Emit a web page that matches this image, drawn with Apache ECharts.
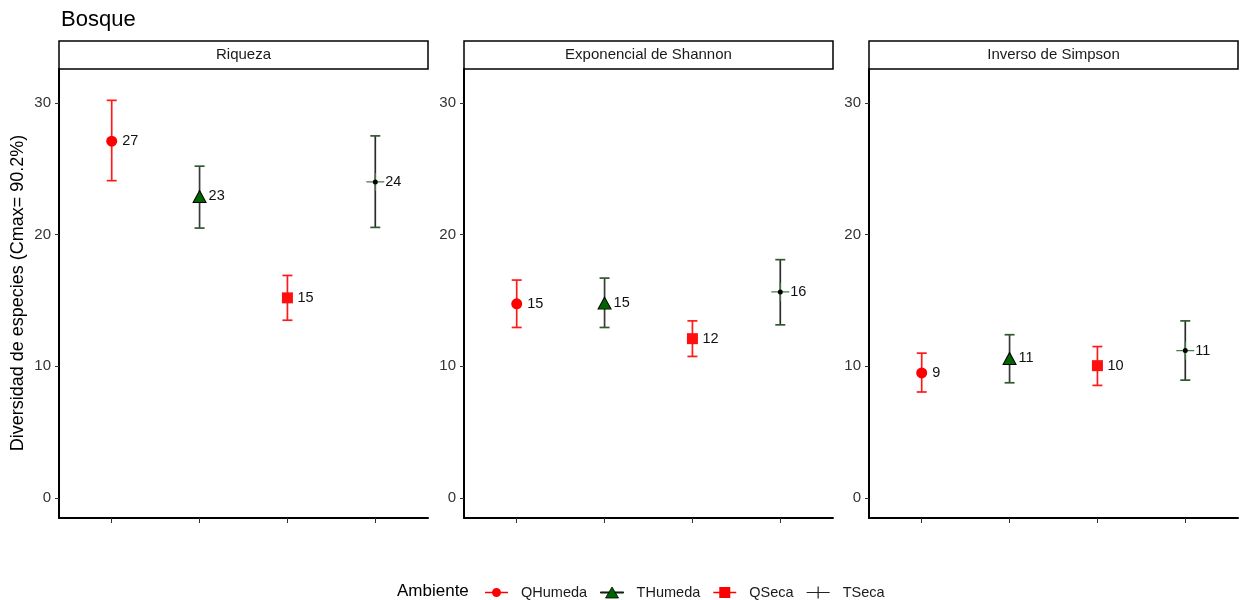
<!DOCTYPE html>
<html>
<head>
<meta charset="utf-8">
<script src="https://cdn.jsdelivr.net/npm/echarts@6/dist/echarts.min.js"></script>
<style>html,body{margin:0;padding:0;background:#fff}#chart{width:1240px;height:600px}</style>
</head>
<body>
<div id="chart"></div>
<script>
// ---- data ----
var groups = ['QHumeda', 'THumeda', 'QSeca', 'TSeca'];
var panels = ['Riqueza', 'Exponencial de Shannon', 'Inverso de Simpson'];
var yTicks = [0, 10, 20, 30];

var riquezaMean  = [27.1, 22.9, 15.2, 24.0];
var riquezaLow   = [24.1, 20.5, 13.5, 20.55];
var riquezaHigh  = [30.2, 25.2, 16.9, 27.5];
var riquezaLabel = ['27', '23', '15', '24'];

var shannonMean  = [14.75, 14.8, 12.1, 15.65];
var shannonLow   = [12.95, 12.95, 10.75, 13.15];
var shannonHigh  = [16.55, 16.7, 13.45, 18.1];
var shannonLabel = ['15', '15', '12', '16'];

var simpsonMean  = [9.5, 10.6, 10.05, 11.2];
var simpsonLow   = [8.05, 8.75, 8.55, 8.95];
var simpsonHigh  = [11.0, 12.4, 11.5, 13.45];
var simpsonLabel = ['9', '11', '10', '11'];

var panelData = [
  {mean: riquezaMean, low: riquezaLow, high: riquezaHigh, label: riquezaLabel},
  {mean: shannonMean, low: shannonLow, high: shannonHigh, label: shannonLabel},
  {mean: simpsonMean, low: simpsonLow, high: simpsonHigh, label: simpsonLabel}
];

// ---- styles ----
var FONT = '"Liberation Sans", Arial, sans-serif';
var barColor = ['#ff1a1a', '#3a3a3a', '#ff1a1a', '#2b2b2b'];
var capColor = ['#ff1a1a', '#2f5a2f', '#ff1a1a', '#2f5a2f'];
var pointColor = ['#ff0000', '#006400', '#ff1010', '#4a7a4a'];
var crossPath = 'path://M-0.07,-1 L0.07,-1 L0.07,-0.07 L1,-0.07 L1,0.07 L0.07,0.07 L0.07,1 L-0.07,1 L-0.07,0.07 L-1,0.07 L-1,-0.07 L-0.07,-0.07 Z';
var symbols = ['circle', 'triangle', 'rect', crossPath];
var symbolSizes = [11, [13, 12], 11, [18, 18]];
var labelDist = [5, 2, 4.5, 1];

var gridLefts = [59, 464, 869];
var gridTop = 69, gridW = 369, gridH = 449;

var grids = [], xAxes = [], yAxes = [], series = [], graphics = [];

panels.forEach(function (pname, p) {
  grids.push({left: gridLefts[p], top: gridTop, width: gridW, height: gridH});
  xAxes.push({
    type: 'value', gridIndex: p, min: -0.6, max: 3.6,
    axisLine: {onZero: false, lineStyle: {color: '#000', width: 2}},
    axisTick: {show: true, length: 5, customValues: [0, 1, 2, 3], lineStyle: {color: '#333', width: 1}},
    axisLabel: {show: false},
    splitLine: {show: false}
  });
  yAxes.push({
    type: 'value', gridIndex: p, min: -1.52, max: 32.58,
    axisLine: {show: true, onZero: false, lineStyle: {color: '#000', width: 2}},
    axisTick: {show: true, length: 4, customValues: yTicks, lineStyle: {color: '#333', width: 1}},
    axisLabel: {customValues: yTicks, fontSize: 15, color: '#333', margin: 8, fontFamily: FONT},
    splitLine: {show: false}
  });

  var d = panelData[p];
  // error bars
  series.push({
    type: 'custom', name: 'eb' + p, xAxisIndex: p, yAxisIndex: p, z: 2,
    silent: true,
    data: groups.map(function (g, i) { return [i, d.low[i], d.high[i]]; }),
    renderItem: function (params, api) {
      var i = api.value(0);
      var lo = api.coord([i, api.value(1)]);
      var hi = api.coord([i, api.value(2)]);
      var hw = 5;
      return {
        type: 'group',
        children: [
          {type: 'line', shape: {x1: lo[0], y1: lo[1], x2: hi[0], y2: hi[1]}, style: {stroke: barColor[i], lineWidth: 1.7}},
          {type: 'line', shape: {x1: lo[0] - hw, y1: lo[1], x2: lo[0] + hw, y2: lo[1]}, style: {stroke: capColor[i], lineWidth: 1.7}},
          {type: 'line', shape: {x1: hi[0] - hw, y1: hi[1], x2: hi[0] + hw, y2: hi[1]}, style: {stroke: capColor[i], lineWidth: 1.7}}
        ]
      };
    }
  });
  // points
  groups.forEach(function (g, i) {
    series.push({
      type: 'scatter', name: g, xAxisIndex: p, yAxisIndex: p, z: 3,
      symbol: symbols[i], symbolSize: symbolSizes[i],
      itemStyle: i === 1 ? {color: pointColor[i], borderColor: '#000', borderWidth: 1, opacity: 1} : {color: pointColor[i], opacity: 1},
      label: {show: true, position: 'right', distance: labelDist[i], fontSize: 14.5, color: '#111', fontFamily: FONT,
        formatter: (function (lab) { return function () { return lab; }; })(d.label[i])},
      emphasis: {disabled: true},
      data: [[i, d.mean[i]]]
    });
  });
  // TSeca center dot
  series.push({
    type: 'scatter', name: 'TSecaDot' + p, xAxisIndex: p, yAxisIndex: p, z: 4,
    symbol: 'circle', symbolSize: 5, itemStyle: {color: '#000', opacity: 1}, emphasis: {disabled: true},
    data: [[3, d.mean[3]]]
  });

  // strip
  graphics.push({
    type: 'rect', shape: {x: gridLefts[p], y: 41, width: gridW, height: 28},
    style: {fill: '#fff', stroke: '#000', lineWidth: 1.5}
  });
  graphics.push({
    type: 'text', x: gridLefts[p] + gridW / 2, y: 55,
    style: {text: pname, textAlign: 'center', textVerticalAlign: 'middle', fontSize: 15, fill: '#1a1a1a', fontFamily: FONT}
  });
});

graphics.push({
  type: 'text', x: 18, y: 293, rotation: Math.PI / 2,
  style: {text: 'Diversidad de especies (Cmax= 90.2%)', textAlign: 'center', textVerticalAlign: 'middle', fontSize: 18, fill: '#000', fontFamily: FONT}
});
graphics.push({
  type: 'text', x: 397, y: 591,
  style: {text: 'Ambiente', textAlign: 'left', textVerticalAlign: 'middle', fontSize: 17, fill: '#000', fontFamily: FONT}
});

var legendIcons = [
  'path://M0,5.3 L7.2,5.3 L7.2,6.7 L0,6.7 Z M15.8,5.3 L23,5.3 L23,6.7 L15.8,6.7 Z M7,6 A4.5,4.5 0 1,1 16,6 A4.5,4.5 0 1,1 7,6 Z',
  'path://M0,5.4 L8.4,5.4 L8.4,6.6 L0,6.6 Z M14.6,5.4 L23,5.4 L23,6.6 L14.6,6.6 Z M11.5,0.5 L18,11.5 L5,11.5 Z',
  'path://M0,5.3 L6,5.3 L6,6.7 L0,6.7 Z M17,5.3 L23,5.3 L23,6.7 L17,6.7 Z M6,0.5 L17,0.5 L17,11.5 L6,11.5 Z',
  'path://M10.9,0 L12.1,0 L12.1,5.4 L23,5.4 L23,6.6 L12.1,6.6 L12.1,12 L10.9,12 L10.9,6.6 L0,6.6 L0,5.4 L10.9,5.4 Z'
];
var legendColors = ['#ff0000', '#006400', '#ff0000', '#222'];

var option = {
  animation: false,
  backgroundColor: '#fff',
  textStyle: {fontFamily: FONT},
  title: {text: 'Bosque', left: 56, top: 4, textStyle: {fontSize: 22, fontWeight: 'normal', color: '#000', fontFamily: FONT}},
  grid: grids,
  xAxis: xAxes,
  yAxis: yAxes,
  legend: {
    left: 480, top: 580, itemWidth: 23, itemHeight: 12, itemGap: 13,
    selectedMode: false,
    formatter: function (n) { return '  ' + n; },
    textStyle: {fontSize: 14.5, color: '#1a1a1a', fontFamily: FONT},
    data: groups.map(function (g, i) {
      return {name: g, icon: legendIcons[i], itemStyle: {color: legendColors[i], opacity: 1, borderColor: i === 1 ? '#000' : legendColors[i], borderWidth: i === 1 ? 0.8 : 0}};
    })
  },
  graphic: graphics,
  series: series
};

var chart = echarts.init(document.getElementById('chart'), null, {renderer: 'canvas'});
chart.setOption(option);
</script>
</body>
</html>
